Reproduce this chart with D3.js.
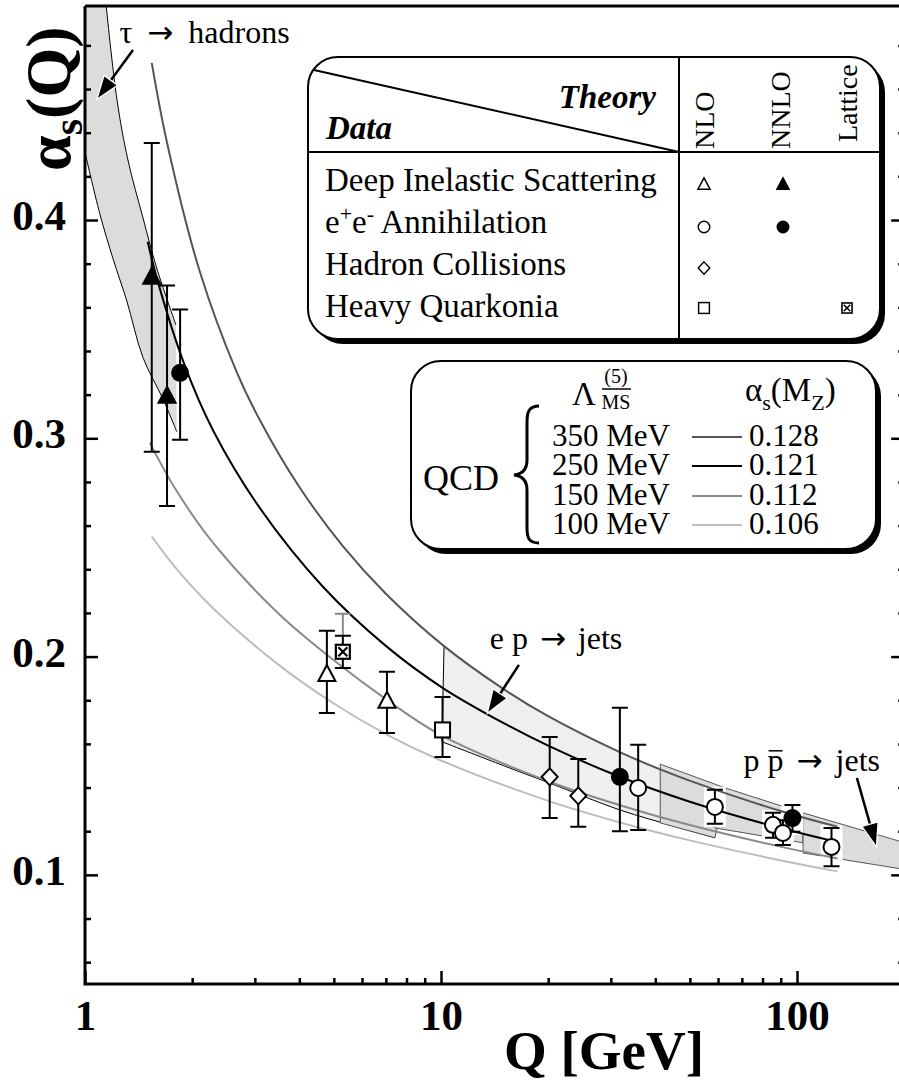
<!DOCTYPE html>
<html>
<head>
<meta charset="utf-8">
<script src="https://cdn.jsdelivr.net/npm/d3@7/dist/d3.min.js"></script>
<style>
  html, body { margin: 0; padding: 0; background: #fff; }
  svg { display: block; }
  text { font-family: "Liberation Serif", "Times New Roman", Times, serif; fill: #000; }
  .arr { font-family: "DejaVu Sans", sans-serif; }
</style>
</head>
<body>
<svg id="chart" width="899" height="1084"></svg>
<script>
// ---------- QCD running-coupling curves (Q in GeV, alpha_s) ----------
const q350 = [1.54, 1.7, 2.1, 2.67, 3.1, 4, 5.3, 7, 10.2, 15, 20, 32, 45, 58, 91, 130];
const a350 = [0.472, 0.4354, 0.3765, 0.3302, 0.3083, 0.2777, 0.2506, 0.2288, 0.2048, 0.1851, 0.1727, 0.156, 0.1459, 0.1394, 0.129, 0.122];
const q250 = [1.5, 1.6, 1.9, 2.3, 3.1, 4.66, 7, 10.1, 15, 20, 30.4, 50, 91, 130];
const a250 = [0.390, 0.372, 0.334, 0.303, 0.268, 0.232, 0.2049, 0.1857, 0.1695, 0.1592, 0.1462, 0.1335, 0.1212, 0.115];
const q150 = [1.52, 1.8, 2.3, 3.5, 5, 7, 10, 20, 32, 50, 91, 130];
const a150 = [0.298, 0.2764, 0.2517, 0.2196, 0.1983, 0.1805, 0.164, 0.1429, 0.1318, 0.1228, 0.1127, 0.1075];
const q100 = [1.54, 1.8, 2.3, 3.5, 5, 7, 10, 20, 32, 50, 91, 130];
const a100 = [0.255, 0.2405, 0.2218, 0.1962, 0.1785, 0.1645, 0.1524, 0.1339, 0.1239, 0.1158, 0.1065, 0.1016];

const lambdaLabels = ["350 MeV", "250 MeV", "150 MeV", "100 MeV"];
const alphaMZLabels = ["0.128", "0.121", "0.112", "0.106"];

// ---------- bands ----------
// tau -> hadrons
const tauUpQ = [1.147, 1.23, 1.32, 1.455, 1.59, 1.80];
const tauUpA = [0.498, 0.455, 0.4275, 0.401, 0.378, 0.352];
const tauLoQ = [1.0, 1.10, 1.2, 1.31, 1.455, 1.66, 1.81];
const tauLoA = [0.431, 0.403, 0.382, 0.363, 0.337, 0.3176, 0.303];
// e p -> jets
const epHiQ = [10.2, 15, 20, 32, 45, 58.8];
const epHiA = [0.2048, 0.1851, 0.1727, 0.156, 0.1459, 0.139];
const epLoQ = [10.06, 15, 20, 32, 45, 58.8];
const epLoA = [0.161, 0.150, 0.1423, 0.1296, 0.1224, 0.117];
// p pbar -> jets, three pieces (upper edge Q0->Q1, lower edge QloEnd->QloStart)
const ppQ0  = [41.3, 63.2, 104];
const ppQ1  = [63.2, 104, 200];
const ppHi0 = [0.1507, 0.1397, 0.1284];
const ppHi1 = [0.1397, 0.1284, 0.1148];
const ppLoQ0 = [41.3, 58.8, 104];
const ppLoQ1 = [58.8, 104, 200];
const ppLo0 = [0.1238, 0.1215, 0.110];
const ppLo1 = [0.117, 0.1147, 0.1025];

// ---------- measurements ----------
const nnloDisQ = [1.54, 1.70];
const nnloDisA = [0.3735, 0.319];
const nnloDisLo = [0.2938, 0.269];
const nnloDisHi = [0.4353, 0.370];

const nloDisQ = [4.78, 7.05];
const nloDisA = [0.1916, 0.1793];
const nloDisLo = [0.1742, 0.165];
const nloDisHi = [0.2118, 0.193];

const nloEeQ = [35.8, 58.8, 85.6, 91.3, 125];
const nloEeA = [0.1398, 0.1311, 0.1229, 0.1192, 0.1128];
const nloEeLo = [0.1206, 0.1234, 0.117, 0.1137, 0.104];
const nloEeHi = [0.1596, 0.139, 0.1284, 0.125, 0.1215];
const nloEeBoxed = [false, true, true, true, true];

const nnloEeQ = [1.85, 31.8, 97.1];
const nnloEeA = [0.330, 0.1449, 0.126];
const nnloEeLo = [0.2993, 0.120, 0.1197];
const nnloEeHi = [0.359, 0.1765, 0.132];
const nnloEeBoxed = [false, false, true];

const nloHadQ = [20.2, 24.3];
const nloHadA = [0.1449, 0.1362];
const nloHadLo = [0.126, 0.122];
const nloHadHi = [0.1632, 0.1531];

const nloQuarkQ = [10.1];
const nloQuarkA = [0.1664];
const nloQuarkLo = [0.154];
const nloQuarkHi = [0.1815];

const latticeQ = [5.3];
const latticeA = [0.2022];
const latticeLo = [0.1948];
const latticeHi = [0.2095];
const latticeSysHi = [0.2196];

// axis ticks
const yMajor = [0.1, 0.2, 0.3, 0.4];
const yMinor = d3.range(0.06, 0.499, 0.02).map(v => +v.toFixed(2)).filter(v => !yMajor.includes(v));
const xMajor = [1, 10, 100];
const xMinor = [2, 3, 4, 5, 6, 7, 8, 9, 20, 30, 40, 50, 60, 70, 80, 90];

// ---------- layout ----------
const svg = d3.select("#chart");
const qMax = 200;
const x = d3.scaleLog().domain([1, qMax]).range([85, 85 + 356 * Math.log10(qMax)]);
const y = d3.scaleLinear().domain([0.05, 0.4985]).range([984, 5]);
const yTop = 0.498;

svg.append("defs").append("clipPath").attr("id", "plotclip")
  .append("rect").attr("x", x(1)).attr("y", y(yTop))
  .attr("width", x(qMax) - x(1)).attr("height", y(0.05) - y(yTop));

const plot = svg.append("g").attr("clip-path", "url(#plotclip)");
const line = d3.line().x(d => x(d[0])).y(d => y(d[1])).curve(d3.curveCatmullRom.alpha(0.5));
const zip = (qs, as) => qs.map((q, i) => [q, as[i]]);

// tau band
{
  const up = zip(tauUpQ, tauUpA);
  const lo = zip(tauLoQ, tauLoA);
  const path = `M${x(1)},${y(yTop)}L` + line(up).slice(1) + "L" + line(lo.slice().reverse()).slice(1) + "Z";
  plot.append("path").attr("d", path).attr("fill", "#dcdcdc");
  plot.append("path").attr("d", line(up)).attr("fill", "none").attr("stroke", "#000").attr("stroke-width", 1);
  plot.append("path").attr("d", line(lo)).attr("fill", "none").attr("stroke", "#000").attr("stroke-width", 1);
}
// e p band
{
  const hi = zip(epHiQ, epHiA);
  const lo = zip(epLoQ, epLoA);
  const path = line(hi) + "L" + line(lo.slice().reverse()).slice(1) + "Z";
  plot.append("path").attr("d", path).attr("fill", "#efefef");
  plot.append("path").attr("d", `M${x(hi[0][0])},${y(hi[0][1])}L${x(lo[0][0])},${y(lo[0][1])}`)
    .attr("fill", "none").attr("stroke", "#000").attr("stroke-width", 1);
  plot.append("path").attr("d", line(lo)).attr("fill", "none").attr("stroke", "#000").attr("stroke-width", 1);
}
// p pbar pieces
ppQ0.forEach((q0, i) => {
  const pts = [[q0, ppHi0[i]], [ppQ1[i], ppHi1[i]], [ppLoQ1[i], ppLo1[i]], [ppLoQ0[i], ppLo0[i]]];
  plot.append("path")
    .attr("d", "M" + pts.map(p => `${x(p[0])},${y(p[1])}`).join("L") + "Z")
    .attr("fill", "#dcdcdc").attr("stroke", "#444").attr("stroke-width", 0.9);
});

// white knock-out boxes behind selected points
function knock(qs, los, his, flags) {
  qs.forEach((q, i) => {
    if (!flags[i]) return;
    plot.append("rect")
      .attr("x", x(q) - 11).attr("y", y(his[i]) - 3)
      .attr("width", 22).attr("height", y(los[i]) - y(his[i]) + 6)
      .attr("fill", "#fff");
  });
}
knock(nloEeQ, nloEeLo, nloEeHi, nloEeBoxed);
knock(nnloEeQ, nnloEeLo, nnloEeHi, nnloEeBoxed);

// QCD curves
const curveSets = [
  {q: q100, a: a100, c: "#bdbdbd", w: 2},
  {q: q150, a: a150, c: "#8a8a8a", w: 2},
  {q: q350, a: a350, c: "#555555", w: 2},
  {q: q250, a: a250, c: "#000000", w: 2}
];
curveSets.forEach(s => {
  plot.append("path").attr("d", line(zip(s.q, s.a)))
    .attr("fill", "none").attr("stroke", s.c).attr("stroke-width", s.w);
});

// ---------- symbols ----------
function symbol(g, kind, cx, cy, s) {
  const gg = g.append("g").attr("transform", `translate(${cx},${cy}) scale(${s})`);
  if (kind === "triOpen" || kind === "triFill") {
    gg.append("path").attr("d", "M0,-10L8.5,6L-8.5,6Z")
      .attr("fill", kind === "triFill" ? "#000" : "#fff").attr("stroke", "#000").attr("stroke-width", 2);
  } else if (kind === "circOpen" || kind === "circFill") {
    gg.append("circle").attr("r", 8)
      .attr("fill", kind === "circFill" ? "#000" : "#fff").attr("stroke", "#000").attr("stroke-width", 2);
  } else if (kind === "diamond") {
    gg.append("path").attr("d", "M0,-8.5L8,0L0,8.5L-8,0Z").attr("fill", "#fff").attr("stroke", "#000").attr("stroke-width", 2);
  } else if (kind === "square") {
    gg.append("rect").attr("x", -7.5).attr("y", -7.5).attr("width", 15).attr("height", 15)
      .attr("fill", "#fff").attr("stroke", "#000").attr("stroke-width", 2);
  } else if (kind === "lattice") {
    gg.append("rect").attr("x", -7).attr("y", -7).attr("width", 14).attr("height", 14)
      .attr("fill", "#fff").attr("stroke", "#000").attr("stroke-width", 2.2);
    gg.append("path").attr("d", "M-4.5,-4.5L4.5,4.5M4.5,-4.5L-4.5,4.5").attr("stroke", "#000").attr("stroke-width", 2.2);
  }
}

function errbar(g, q, lo, hi) {
  const cx = x(q);
  g.append("path")
    .attr("d", `M${cx},${y(lo)}V${y(hi)}M${cx - 8},${y(lo)}h16M${cx - 8},${y(hi)}h16`)
    .attr("fill", "none").attr("stroke", "#000").attr("stroke-width", 2);
}

const series = [
  {kind: "triOpen", q: nloDisQ, a: nloDisA, lo: nloDisLo, hi: nloDisHi},
  {kind: "diamond", q: nloHadQ, a: nloHadA, lo: nloHadLo, hi: nloHadHi},
  {kind: "square", q: nloQuarkQ, a: nloQuarkA, lo: nloQuarkLo, hi: nloQuarkHi},
  {kind: "lattice", q: latticeQ, a: latticeA, lo: latticeLo, hi: latticeHi},
  {kind: "triFill", q: nnloDisQ, a: nnloDisA, lo: nnloDisLo, hi: nnloDisHi},
  {kind: "circFill", q: nnloEeQ, a: nnloEeA, lo: nnloEeLo, hi: nnloEeHi},
  {kind: "circOpen", q: nloEeQ, a: nloEeA, lo: nloEeLo, hi: nloEeHi}
];
const marks = plot.append("g");
// lattice systematic extension
latticeQ.forEach((q, i) => {
  const cx = x(q);
  marks.append("path")
    .attr("d", `M${cx},${y(latticeHi[i])}V${y(latticeSysHi[i])}M${cx - 8},${y(latticeSysHi[i])}h16`)
    .attr("stroke", "#8a8a8a").attr("stroke-width", 2).attr("fill", "none");
});
series.forEach(s => s.q.forEach((q, i) => errbar(marks, q, s.lo[i], s.hi[i])));
series.forEach(s => s.q.forEach((q, i) => symbol(marks, s.kind, x(q), y(s.a[i]), 1)));

// ---------- annotations ----------
function arrow(g, q0, a0, q1, a1) {
  const x0 = x(q0), y0 = y(a0), x1 = x(q1), y1 = y(a1);
  const dx = x1 - x0, dy = y1 - y0, L = Math.hypot(dx, dy);
  const ux = dx / L, uy = dy / L, hl = 21, hw = 7.5;
  const bx = x1 - ux * hl, by = y1 - uy * hl;
  g.append("line").attr("x1", x0).attr("y1", y0).attr("x2", bx + ux * 3).attr("y2", by + uy * 3)
    .attr("stroke", "#000").attr("stroke-width", 2.5);
  g.append("path")
    .attr("d", `M${x1},${y1}L${bx - uy * hw},${by + ux * hw}L${bx + uy * hw},${by - ux * hw}Z`)
    .attr("fill", "#000").attr("stroke", "#fff").attr("stroke-width", 2.5).attr("paint-order", "stroke");
}
const ann = svg.append("g");
arrow(ann, 1.364, 0.4779, 1.088, 0.456);
arrow(ann, 16.55, 0.1962, 13.58, 0.1747);
arrow(ann, 147.3, 0.1444, 166.6, 0.1137);

// label text: pieces with extra gaps around the arrow glyph
function arrowLabel(g, q, a, parts, gap) {
  const t = g.append("text").attr("x", x(q)).attr("y", y(a)).attr("font-size", 32);
  parts.forEach((p, i) => {
    const s = t.append("tspan").text(p);
    if (p.includes("→")) s.attr("class", "arr").attr("font-size", 31).attr("dx", gap);
    else if (i > 0) s.attr("dx", gap);
  });
  return t;
}
arrowLabel(ann, 1.25, 0.4813, ["τ ", "→", " hadrons"], 7);
arrowLabel(ann, 13.7, 0.2033, ["e p ", "→", " jets"], 4);
const ppText = arrowLabel(ann, 70.8, 0.1475, ["p p ", "→", "  jets"], 5);
{
  const ext = ppText.node().getExtentOfChar(2);
  ann.append("line").attr("x1", ext.x + 1).attr("x2", ext.x + ext.width - 1)
    .attr("y1", ext.y + ext.height * 0.24).attr("y2", ext.y + ext.height * 0.24)
    .attr("stroke", "#000").attr("stroke-width", 1.5);
}

// ---------- axes ----------
const axes = svg.append("g");
axes.append("path")
  .attr("d", `M${x(1)},${y(yTop)}H${x(qMax) + 2}M${x(1)},${y(yTop)}V${y(0.05)}H${x(qMax) + 2}M${x(qMax)},${y(yTop)}V${y(0.05)}`)
  .attr("fill", "none").attr("stroke", "#000").attr("stroke-width", 3);

function styleAxis(g) {
  g.select(".domain").remove();
  g.selectAll(".tick line").attr("stroke", "#000").attr("stroke-width", 2.5);
}
axes.append("g").attr("transform", `translate(${x(1)},0)`)
  .call(d3.axisLeft(y).tickValues(yMajor).tickSizeInner(-13).tickSizeOuter(0).tickPadding(19).tickFormat(d3.format(".1f")))
  .call(styleAxis)
  .call(g => g.selectAll("text").attr("font-size", 43).attr("font-weight", "bold").attr("dy", "0.22em")
    .style("font-family", '"Liberation Serif", serif').attr("fill", "#000"));
axes.append("g").attr("transform", `translate(${x(1)},0)`)
  .call(d3.axisLeft(y).tickValues(yMinor).tickSizeInner(-6).tickSizeOuter(0).tickFormat(""))
  .call(styleAxis);
axes.append("g").attr("transform", `translate(${x(qMax)},0)`)
  .call(d3.axisRight(y).tickValues(yMajor).tickSizeInner(-13).tickSizeOuter(0).tickFormat(""))
  .call(styleAxis);
axes.append("g").attr("transform", `translate(${x(qMax)},0)`)
  .call(d3.axisRight(y).tickValues(yMinor).tickSizeInner(-6).tickSizeOuter(0).tickFormat(""))
  .call(styleAxis);
axes.append("g").attr("transform", `translate(0,${y(0.05)})`)
  .call(d3.axisBottom(x).tickValues(xMajor).tickSizeInner(-13).tickSizeOuter(0).tickPadding(15).tickFormat(d3.format("d")))
  .call(styleAxis)
  .call(g => g.selectAll("text").attr("font-size", 43).attr("font-weight", "bold")
    .style("font-family", '"Liberation Serif", serif').attr("fill", "#000"));
axes.append("g").attr("transform", `translate(0,${y(0.05)})`)
  .call(d3.axisBottom(x).tickValues(xMinor).tickSizeInner(-6).tickSizeOuter(0).tickFormat(""))
  .call(styleAxis);

svg.append("text").attr("x", 604).attr("y", 1069).attr("text-anchor", "middle")
  .attr("font-size", 55).attr("font-weight", "bold").text("Q [GeV]");
{
  const t = svg.append("text").attr("transform", "translate(70,171) rotate(-90)")
    .attr("font-size", 64).attr("font-weight", "bold");
  t.append("tspan").text("α");
  t.append("tspan").attr("font-size", 42).attr("dy", 12).text("s");
  t.append("tspan").attr("dy", -12).text("(Q)");
}

// ---------- legend: data vs theory ----------
const lg = svg.append("g");
lg.append("rect").attr("x", 313).attr("y", 62).attr("width", 572).attr("height", 282).attr("rx", 30).attr("fill", "#000");
lg.append("rect").attr("x", 308).attr("y", 57).attr("width", 572).attr("height", 282).attr("rx", 30)
  .attr("fill", "#fff").attr("stroke", "#000").attr("stroke-width", 2);
lg.append("path").attr("d", "M308,152H880M679,57V339M314,70L679,152").attr("stroke", "#000").attr("stroke-width", 2).attr("fill", "none");
lg.append("text").attr("x", 656).attr("y", 108).attr("text-anchor", "end").attr("font-size", 33)
  .attr("font-weight", "bold").attr("font-style", "italic").text("Theory");
lg.append("text").attr("x", 326).attr("y", 139).attr("font-size", 33)
  .attr("font-weight", "bold").attr("font-style", "italic").text("Data");
const theoryCols = ["NLO", "NNLO", "Lattice"];
const theoryColX = [714, 790, 857];
const theoryColY = [149, 149, 142];
theoryCols.forEach((t, i) => lg.append("text")
  .attr("transform", `translate(${theoryColX[i]},${theoryColY[i]}) rotate(-90)`)
  .attr("font-size", 28).text(t));
const dataRows = ["Deep Inelastic Scattering", "e+e- Annihilation", "Hadron Collisions", "Heavy Quarkonia"];
const rowBase = [191, 233, 275, 317];
dataRows.forEach((r, i) => {
  const t = lg.append("text").attr("x", 325).attr("y", rowBase[i]).attr("font-size", 33);
  if (i === 1) {
    t.append("tspan").text("e");
    t.append("tspan").attr("font-size", 22).attr("dy", -12).text("+");
    t.append("tspan").attr("dy", 12).text("e");
    t.append("tspan").attr("font-size", 22).attr("dy", -12).text("-");
    t.append("tspan").attr("dy", 12).text(" Annihilation");
  } else t.text(r);
});
const symColX = [704, 783, 847];
const symRowY = [185, 227, 268, 308];
const legendSyms = [["triOpen", 0, 0], ["triFill", 1, 0], ["circOpen", 0, 1], ["circFill", 1, 1],
                    ["diamond", 0, 2], ["square", 0, 3], ["lattice", 2, 3]];
legendSyms.forEach(s => symbol(lg, s[0], symColX[s[1]], symRowY[s[2]], 0.72));

// ---------- legend: QCD curves ----------
const lq = svg.append("g");
lq.append("rect").attr("x", 416).attr("y", 366).attr("width", 465).attr("height", 188).attr("rx", 30).attr("fill", "#000");
lq.append("rect").attr("x", 411).attr("y", 361).attr("width", 465).attr("height", 188).attr("rx", 30)
  .attr("fill", "#fff").attr("stroke", "#000").attr("stroke-width", 2);
lq.append("text").attr("x", 572).attr("y", 405).attr("font-size", 33).text("Λ");
lq.append("text").attr("x", 616).attr("y", 383).attr("text-anchor", "middle").attr("font-size", 20).text("(5)");
lq.append("line").attr("x1", 602).attr("x2", 631).attr("y1", 389).attr("y2", 389).attr("stroke", "#000").attr("stroke-width", 1.5);
lq.append("text").attr("x", 616).attr("y", 409).attr("text-anchor", "middle").attr("font-size", 20).text("MS");
{
  const t = lq.append("text").attr("x", 745).attr("y", 401).attr("font-size", 33);
  t.append("tspan").text("α");
  t.append("tspan").attr("font-size", 22).attr("dy", 9).text("s");
  t.append("tspan").attr("dy", -9).text("(M");
  t.append("tspan").attr("font-size", 22).attr("dy", 9).text("Z");
  t.append("tspan").attr("dy", -9).text(")");
}
lq.append("path")
  .attr("d", "M539,406C529,406 527,412 527,422L527,460C527,469 523,474 514,475C523,476 527,481 527,490L527,528C527,538 529,543 539,543")
  .attr("fill", "none").attr("stroke", "#000").attr("stroke-width", 3);
lq.append("text").attr("x", 423).attr("y", 490).attr("font-size", 36).text("QCD");
const legBase = [446, 475, 505, 534];
const legendCurveOrder = [2, 3, 1, 0];
lambdaLabels.forEach((lab, i) => {
  lq.append("text").attr("x", 552).attr("y", legBase[i]).attr("font-size", 31).text(lab);
  lq.append("text").attr("x", 749).attr("y", legBase[i]).attr("font-size", 31).text(alphaMZLabels[i]);
  const cs = curveSets[legendCurveOrder[i]];
  lq.append("line").attr("x1", 692).attr("x2", 742).attr("y1", legBase[i] - 9).attr("y2", legBase[i] - 9)
    .attr("stroke", cs.c).attr("stroke-width", 2);
});
</script>
</body>
</html>
